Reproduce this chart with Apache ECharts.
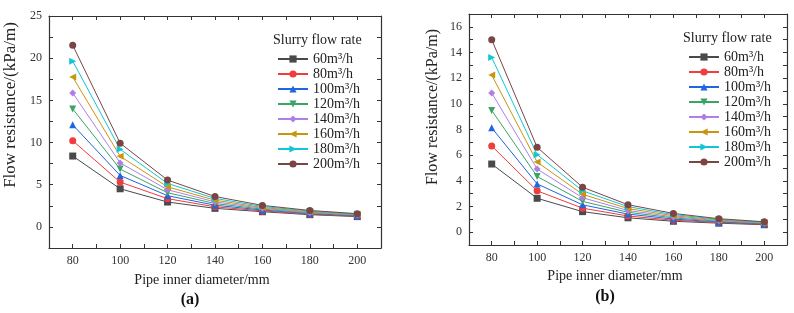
<!DOCTYPE html>
<html>
<head>
<meta charset="utf-8">
<script src="https://cdn.jsdelivr.net/npm/echarts@6/dist/echarts.min.js"></script>
<style>
  html, body { margin: 0; padding: 0; background: #fff; }
  #main { width: 794px; height: 313px; }
</style>
</head>
<body>
<div id="main"></div>
<script>
// pipe inner diameter (mm)
var diameters = [80, 100, 120, 140, 160, 180, 200];
var flowRates = ['60m³/h', '80m³/h', '100m³/h', '120m³/h', '140m³/h', '160m³/h', '180m³/h', '200m³/h'];

// (a) flow resistance kPa/m
var a60  = [8.40, 4.52, 2.95, 2.20, 1.80, 1.45, 1.22];
var a80  = [10.22, 5.31, 3.35, 2.38, 1.90, 1.50, 1.27];
var a100 = [12.10, 6.10, 3.70, 2.57, 2.00, 1.58, 1.32];
var a120 = [13.99, 6.85, 4.05, 2.77, 2.10, 1.65, 1.37];
var a140 = [15.88, 7.59, 4.40, 2.97, 2.20, 1.72, 1.42];
var a160 = [17.77, 8.37, 4.75, 3.17, 2.30, 1.79, 1.47];
var a180 = [19.65, 9.20, 5.15, 3.38, 2.42, 1.87, 1.52];
var a200 = [21.54, 9.92, 5.55, 3.60, 2.55, 1.95, 1.57];

// (b) flow resistance kPa/m
var b60  = [5.31, 2.64, 1.60, 1.12, 0.85, 0.70, 0.58];
var b80  = [6.72, 3.22, 1.87, 1.26, 0.93, 0.75, 0.61];
var b100 = [8.13, 3.76, 2.13, 1.41, 1.02, 0.80, 0.65];
var b120 = [9.49, 4.34, 2.40, 1.55, 1.11, 0.85, 0.68];
var b140 = [10.85, 4.92, 2.68, 1.69, 1.19, 0.90, 0.71];
var b160 = [12.24, 5.46, 2.95, 1.84, 1.28, 0.95, 0.74];
var b180 = [13.62, 6.04, 3.22, 1.99, 1.37, 1.00, 0.78];
var b200 = [15.00, 6.61, 3.50, 2.14, 1.46, 1.05, 0.81];

var aData = [a60, a80, a100, a120, a140, a160, a180, a200];
var bData = [b60, b80, b100, b120, b140, b160, b180, b200];

var colors = ['#4a4a4a', '#f03c3c', '#1f66e0', '#3aa464', '#b07fe6', '#c8960c', '#12c6d6', '#7b4545'];
var symbols = ['rect', 'circle', 'triangle', 'triangle', 'diamond', 'triangle', 'triangle', 'circle'];
var rotates = [0, 0, 0, 180, 0, 90, -90, 0];

var serif = 'Liberation Serif';
var axisColor = '#333';

function xAxes(gridIndex) {
    var base = {
        type: 'value', gridIndex: gridIndex, min: 70, max: 210, interval: 10,
        axisLine: { show: true, onZero: false, lineStyle: { color: axisColor, width: 1.2 } },
        axisTick: { show: true, inside: true, length: 4, lineStyle: { color: axisColor } },
        splitLine: { show: false }
    };
    var bottom = echarts.util.merge({
        position: 'bottom',
        axisLabel: {
            fontFamily: serif, fontSize: 12, color: axisColor, margin: 7,
            formatter: function (v) { return (v >= 80 && v <= 200 && v % 20 === 0) ? v : ''; }
        }
    }, base, true);
    var top = echarts.util.merge({ position: 'top', axisLabel: { show: false } }, base, true);
    return [bottom, top];
}

function yAxes(gridIndex, min, max, interval, labelStep) {
    var base = {
        type: 'value', gridIndex: gridIndex, min: min, max: max, interval: interval,
        axisLine: { show: true, onZero: false, lineStyle: { color: axisColor, width: 1.2 } },
        axisTick: { show: true, inside: true, length: 4, lineStyle: { color: axisColor } },
        splitLine: { show: false }
    };
    var left = echarts.util.merge({
        position: 'left',
        axisLabel: {
            fontFamily: serif, fontSize: 12, color: axisColor, margin: 7,
            formatter: function (v) {
                var r = Math.round(v * 100) / 100;
                return (r >= 0 && Math.abs(r / labelStep - Math.round(r / labelStep)) < 1e-6) ? r : '';
            }
        }
    }, base, true);
    var right = echarts.util.merge({ position: 'right', axisLabel: { show: false } }, base, true);
    return [left, right];
}

var xa = xAxes(0), xb = xAxes(1);
var ya = yAxes(0, -2.5, 25, 2.5, 5), yb = yAxes(1, -1, 17, 1, 2);

var series = [];
function addSeries(data, xIdx, yIdx) {
    for (var i = 0; i < flowRates.length; i++) {
        series.push({
            name: flowRates[i],
            type: 'line',
            xAxisIndex: xIdx,
            yAxisIndex: yIdx,
            data: diameters.map(function (d, j) { return [d, data[i][j]]; }),
            symbol: symbols[i],
            symbolRotate: rotates[i],
            symbolSize: 7,
            showAllSymbol: true,
            lineStyle: { color: colors[i], width: 1 },
            itemStyle: { color: colors[i] },
            emphasis: { disabled: true },
            animation: false
        });
    }
}
addSeries(aData, 0, 0);
addSeries(bData, 2, 2);

function legend(left, top) {
    return {
        data: flowRates,
        orient: 'vertical',
        left: left,
        top: top,
        itemWidth: 30,
        itemHeight: 9,
        itemGap: 1,
        textStyle: { fontFamily: serif, fontSize: 14, color: '#222', lineHeight: 14 },
        selectedMode: false
    };
}

function text(x, y, str, size, opts) {
    return Object.assign({
        type: 'text', x: x, y: y,
        style: {
            text: str, fontFamily: serif, fontSize: size, fill: '#222',
            textAlign: 'center', textVerticalAlign: 'middle'
        }
    }, opts || {});
}

var myChart = echarts.init(document.getElementById('main'));
var option = {
    backgroundColor: '#fff',
    animation: false,
    grid: [
        { left: 49, top: 16, width: 332, height: 232 },
        { left: 469, top: 14, width: 318, height: 231 }
    ],
    xAxis: [xa[0], xa[1], xb[0], xb[1]],
    yAxis: [ya[0], ya[1], yb[0], yb[1]],
    legend: [legend(272, 47), legend(683, 45)],
    graphic: [
        { type: 'text', left: 273, top: 33, style: { text: 'Slurry flow rate', fontFamily: serif, fontSize: 14, fill: '#222' } },
        { type: 'text', left: 683, top: 31, style: { text: 'Slurry flow rate', fontFamily: serif, fontSize: 14, fill: '#222' } },
        text(202, 280, 'Pipe inner diameter/mm', 14),
        text(615, 276, 'Pipe inner diameter/mm', 14),
        text(11, 105, 'Flow resistance/(kPa/m)', 17, { rotation: Math.PI / 2 }),
        text(433, 107, 'Flow resistance/(kPa/m)', 16, { rotation: Math.PI / 2 }),
        text(190, 300, '(a)', 16, { style: { text: '(a)', fontFamily: serif, fontSize: 16, fontWeight: 'bold', fill: '#111', textAlign: 'center', textVerticalAlign: 'middle' } }),
        text(605, 297, '(b)', 16, { style: { text: '(b)', fontFamily: serif, fontSize: 16, fontWeight: 'bold', fill: '#111', textAlign: 'center', textVerticalAlign: 'middle' } })
    ],
    series: series
};
myChart.setOption(option);
window.addEventListener('resize', function () {
    myChart.resize();
});
</script>
</body>
</html>
